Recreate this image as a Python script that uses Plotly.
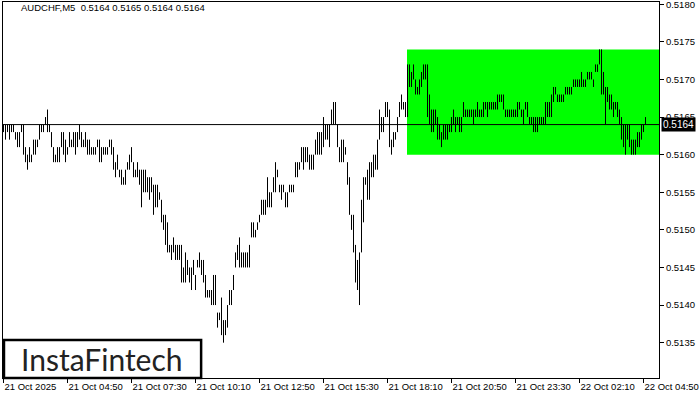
import plotly.graph_objects as go

symbol = "AUDCHF,M5"
last_ohlc = [0.5164, 0.5165, 0.5164, 0.5164]
bid_price = 0.5164

highs = [
    0.5164,0.5164,0.5164,0.5164,0.5164,0.5164,0.5163,0.5163,0.5163,0.5164,
    0.5164,0.5161,0.5160,0.5161,0.5160,0.5162,0.5162,0.5162,0.5164,0.5164,
    0.5164,0.5165,0.5166,0.5164,0.5163,0.5161,0.5160,0.5161,0.5161,0.5163,
    0.5163,0.5162,0.5161,0.5163,0.5162,0.5163,0.5163,0.5163,0.5164,0.5163,
    0.5162,0.5163,0.5162,0.5162,0.5161,0.5161,0.5161,0.5162,0.5162,0.5161,
    0.5161,0.5161,0.5161,0.5162,0.5162,0.5161,0.5159,0.5160,0.5158,0.5158,
    0.5157,0.5158,0.5159,0.5160,0.5161,0.5159,0.5158,0.5159,0.5158,0.5158,
    0.5158,0.5158,0.5157,0.5157,0.5157,0.5156,0.5156,0.5156,0.5155,0.5154,
    0.5152,0.5152,0.5151,0.5148,0.5148,0.5149,0.5148,0.5148,0.5148,0.5148,
    0.5145,0.5147,0.5146,0.5145,0.5145,0.5146,0.5144,0.5146,0.5147,0.5146,
    0.5146,0.5144,0.5142,0.5142,0.5142,0.5144,0.5144,0.5139,0.5139,0.5141,
    0.5138,0.5138,0.5140,0.5142,0.5142,0.5144,
    0.5147,0.5148,0.5149,0.5147,0.5147,0.5147,0.5147,0.5148,0.5151,0.5151,
    0.5150,0.5151,0.5152,0.5154,0.5154,0.5154,0.5157,0.5155,0.5155,0.5157,
    0.5159,0.5158,0.5156,0.5156,0.5156,0.5155,0.5155,0.5156,0.5156,0.5156,
    0.5159,0.5159,0.5159,0.5161,0.5161,0.5161,0.5161,0.5160,0.5160,0.5160,
    0.5162,0.5163,0.5163,0.5163,0.5165,0.5164,0.5164,0.5164,0.5166,0.5167,
    0.5167,0.5164,0.5161,0.5162,0.5162,0.5161,0.5159,0.5157,0.5152,0.5152,
    0.5148,0.5146,0.5147,0.5154,0.5157,0.5157,0.5158,0.5159,0.5159,0.5160,
    0.5160,0.5162,0.5166,0.5165,0.5165,0.5167,0.5167,0.5166,0.5162,0.5163,
    0.5163,0.5165,0.5167,0.5168,0.5167,0.5167,
    0.5172,0.5172,0.5171,0.5172,0.5170,0.5169,0.5170,0.5171,0.5172,0.5172,
    0.5172,0.5168,0.5166,0.5166,0.5166,0.5165,0.5164,0.5163,0.5164,0.5164,
    0.5164,0.5164,0.5165,0.5166,0.5165,0.5165,0.5165,0.5165,0.5167,0.5166,
    0.5166,0.5166,0.5166,0.5166,0.5166,0.5167,0.5166,0.5166,0.5167,0.5167,
    0.5167,0.5167,0.5167,0.5167,0.5167,0.5168,0.5168,0.5168,0.5168,0.5166,
    0.5166,0.5166,0.5166,0.5166,0.5166,0.5167,0.5167,0.5166,0.5166,0.5167,
    0.5167,0.5165,0.5165,0.5165,0.5165,0.5165,0.5165,0.5165,0.5165,0.5167,
    0.5167,0.5167,0.5168,0.5169,0.5169,0.5168,0.5168,0.5168,0.5168,0.5169,
    0.5169,0.5169,0.5169,0.5170,0.5170,0.5170,0.5170,0.5171,0.5170,0.5170,
    0.5171,0.5171,0.5171,0.5170,0.5172,0.5172,0.5174,0.5174,0.5171,0.5169,
    0.5169,0.5168,0.5168,0.5167,0.5167,0.5167,0.5166,0.5165,0.5164,0.5164,
    0.5164,0.5164,0.5162,0.5162,0.5162,0.5163,0.5163,0.5164,0.5164,0.5165,
]

lows = [
    0.5163,0.5162,0.5163,0.5162,0.5163,0.5163,0.5162,0.5161,0.5161,0.5163,
    0.5160,0.5159,0.5158,0.5159,0.5159,0.5160,0.5160,0.5161,0.5162,0.5163,
    0.5163,0.5164,0.5163,0.5163,0.5161,0.5159,0.5159,0.5159,0.5159,0.5161,
    0.5160,0.5159,0.5160,0.5161,0.5161,0.5161,0.5160,0.5161,0.5162,0.5161,
    0.5161,0.5161,0.5160,0.5160,0.5160,0.5160,0.5160,0.5161,0.5159,0.5159,
    0.5160,0.5160,0.5160,0.5161,0.5160,0.5158,0.5157,0.5158,0.5157,0.5156,
    0.5156,0.5156,0.5158,0.5158,0.5159,0.5157,0.5157,0.5157,0.5156,0.5153,
    0.5155,0.5155,0.5155,0.5154,0.5155,0.5152,0.5153,0.5153,0.5154,0.5151,
    0.5150,0.5148,0.5147,0.5147,0.5146,0.5147,0.5146,0.5146,0.5146,0.5143,
    0.5143,0.5143,0.5144,0.5143,0.5142,0.5144,0.5142,0.5145,0.5145,0.5144,
    0.5143,0.5141,0.5141,0.5141,0.5140,0.5140,0.5140,0.5137,0.5138,0.5136,
    0.5135,0.5136,0.5137,0.5140,0.5140,0.5142,
    0.5145,0.5146,0.5145,0.5145,0.5145,0.5145,0.5145,0.5145,0.5149,0.5149,
    0.5149,0.5150,0.5151,0.5152,0.5152,0.5152,0.5153,0.5153,0.5153,0.5155,
    0.5155,0.5157,0.5155,0.5154,0.5155,0.5153,0.5153,0.5155,0.5155,0.5155,
    0.5157,0.5157,0.5158,0.5159,0.5158,0.5159,0.5159,0.5158,0.5158,0.5158,
    0.5160,0.5160,0.5160,0.5160,0.5161,0.5162,0.5162,0.5161,0.5164,0.5164,
    0.5164,0.5161,0.5159,0.5159,0.5159,0.5160,0.5156,0.5152,0.5150,0.5147,
    0.5143,0.5142,0.5140,0.5147,0.5151,0.5156,0.5154,0.5154,0.5157,0.5157,
    0.5158,0.5158,0.5162,0.5163,0.5163,0.5165,0.5165,0.5161,0.5160,0.5161,
    0.5162,0.5163,0.5165,0.5166,0.5166,0.5165,
    0.5165,0.5169,0.5169,0.5170,0.5168,0.5168,0.5168,0.5169,0.5170,0.5170,
    0.5165,0.5164,0.5163,0.5163,0.5164,0.5162,0.5162,0.5161,0.5162,0.5162,
    0.5162,0.5163,0.5163,0.5164,0.5163,0.5164,0.5163,0.5163,0.5165,0.5165,
    0.5165,0.5165,0.5165,0.5164,0.5165,0.5165,0.5165,0.5165,0.5165,0.5166,
    0.5165,0.5166,0.5166,0.5166,0.5166,0.5166,0.5167,0.5167,0.5166,0.5165,
    0.5165,0.5165,0.5165,0.5165,0.5165,0.5165,0.5166,0.5165,0.5164,0.5166,
    0.5165,0.5164,0.5164,0.5163,0.5163,0.5163,0.5164,0.5164,0.5164,0.5164,
    0.5165,0.5165,0.5165,0.5167,0.5168,0.5167,0.5167,0.5167,0.5167,0.5168,
    0.5168,0.5168,0.5168,0.5169,0.5169,0.5169,0.5169,0.5169,0.5169,0.5169,
    0.5170,0.5170,0.5170,0.5169,0.5171,0.5171,0.5172,0.5168,0.5168,0.5164,
    0.5167,0.5166,0.5166,0.5165,0.5166,0.5165,0.5164,0.5162,0.5161,0.5160,
    0.5162,0.5161,0.5160,0.5160,0.5160,0.5161,0.5161,0.5162,0.5163,0.5164,
]

time_tick_bars = [0, 32, 64, 96, 128, 160, 192, 224, 256, 288, 320]
time_tick_labels = ["21 Oct 2025", "21 Oct 04:50", "21 Oct 07:30", "21 Oct 10:10",
                    "21 Oct 12:50", "21 Oct 15:30", "21 Oct 18:10", "21 Oct 20:50",
                    "21 Oct 23:30", "22 Oct 02:10", "22 Oct 04:50"]
price_ticks = [0.5135, 0.5140, 0.5145, 0.5150, 0.5155, 0.5160, 0.5165, 0.5170, 0.5175, 0.5180]

pattern_start = 202
pattern_top = 0.5174
pattern_bottom = 0.5160

assert len(highs) == len(lows)

xs, ys = [], []
for i, (h, l) in enumerate(zip(highs, lows)):
    xs += [i, i, None]
    ys += [l, h, None]

x_range = [-0.25, 327.75]
y_range = [0.51303, 0.51803]
axis_font = dict(family="Liberation Sans, Arial, sans-serif", size=9.5, color="#000000")

fig = go.Figure()
fig.add_trace(go.Scatter(x=xs, y=ys, mode="lines",
                         line=dict(color="#000000", width=1),
                         hoverinfo="skip", showlegend=False))

# pattern rectangle
fig.add_shape(type="rect", xref="x", yref="y",
              x0=pattern_start - 0.25, x1=x_range[1],
              y0=pattern_bottom, y1=pattern_top,
              fillcolor="#00FF00", line=dict(width=0), layer="below")
# bid line
fig.add_shape(type="line", xref="paper", yref="y", x0=0, x1=1,
              y0=bid_price, y1=bid_price,
              line=dict(color="#000000", width=1), layer="above")
# logo box
fig.add_shape(type="rect", xref="paper", yref="paper",
              x0=0.0015, x1=0.302, y0=0.0, y1=0.101,
              fillcolor="#FFFFFF", line=dict(color="#000000", width=2.5), layer="above")
fig.add_annotation(xref="paper", yref="paper", x=0.151, y=0.05,
                   text="InstaFintech", showarrow=False,
                   font=dict(family="Lato, Inter, sans-serif", size=30, color="#222222"),
                   xanchor="center", yanchor="middle")

# title
fig.add_annotation(xref="paper", yref="paper", x=0.024, y=0.985,
                   text=symbol + "  " + " ".join(f"{v:.4f}" for v in last_ohlc),
                   showarrow=False, xanchor="left", yanchor="middle",
                   font=dict(family="Liberation Sans, Arial, sans-serif", size=9.5, color="#000000"))

# bid label
fig.add_annotation(xref="paper", yref="y", x=1, y=bid_price, xshift=2,
                   text=f"{bid_price:.4f}", showarrow=False,
                   xanchor="left", yanchor="middle",
                   bgcolor="#000000", borderpad=1,
                   font=dict(family="Liberation Sans, Arial, sans-serif", size=10, color="#FFFFFF"))

fig.update_layout(
    width=700, height=400,
    margin=dict(l=3, r=41, t=2, b=22, autoexpand=False),
    paper_bgcolor="#FFFFFF", plot_bgcolor="#FFFFFF",
    showlegend=False,
    xaxis=dict(range=x_range, tickmode="array", tickvals=time_tick_bars,
               ticktext=time_tick_labels, ticks="outside", ticklen=4,
               tickcolor="#000000", showgrid=False, zeroline=False,
               showline=True, linecolor="#000000", linewidth=1, mirror=True,
               ticklabelposition="outside right", tickfont=axis_font,
               ticklabeloverflow="allow",
               automargin=False, fixedrange=True),
    yaxis=dict(range=y_range, side="right", tickmode="array", tickvals=price_ticks,
               ticktext=[f"{v:.4f}" for v in price_ticks], ticks="outside",
               ticklen=4, tickcolor="#000000", showgrid=False, zeroline=False,
               showline=True, linecolor="#000000", linewidth=1, mirror=True,
               tickfont=axis_font, ticklabeloverflow="allow",
               automargin=False, fixedrange=True),
)

fig.write_html("out.html", config={"displayModeBar": False},
               post_script="document.body.style.margin='0px';document.body.style.overflow='hidden';")
